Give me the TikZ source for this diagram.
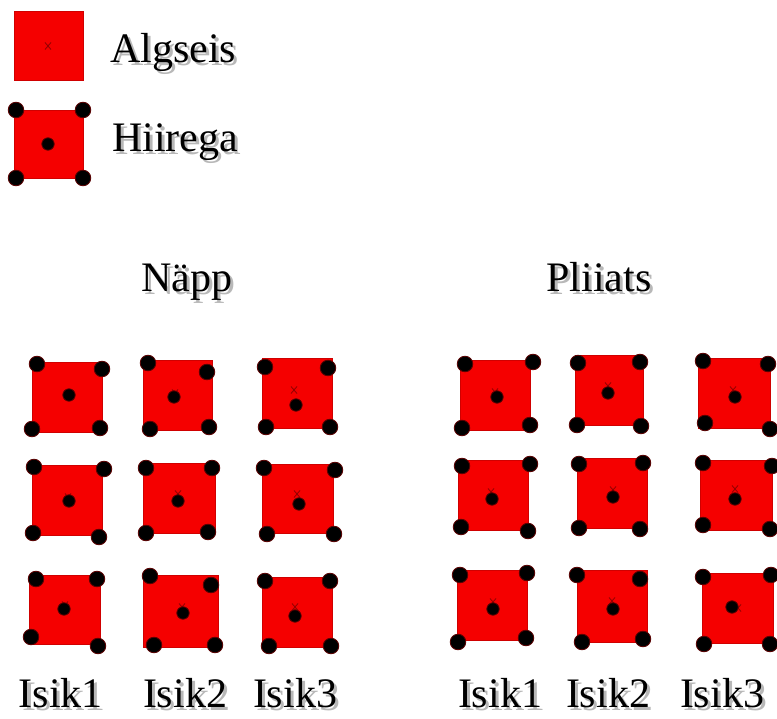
\documentclass[tikz,border=0pt]{standalone}
\usepackage{fontspec}
\setmainfont{Liberation Serif}
\definecolor{sqred}{RGB}{245,0,0}
\definecolor{xred}{RGB}{150,0,0}
\definecolor{halo}{RGB}{90,0,0}
\tikzset{
  sqfill/.style={fill=sqred, draw=sqred!85!black, line width=0.5pt},
  cdot/.style={fill=black, draw=halo, line width=0.8pt},
  xm/.style={draw=xred, line width=0.9pt},
  lbl/.style={font=\fontsize{42}{48}\selectfont, inner sep=0pt, text=black},
  shd/.style={font=\fontsize{42}{48}\selectfont, inner sep=0pt, text=black, opacity=0.28},
  flat/.style={text depth=0pt}
}
% #1,#2 rectangle corners; #3-#6 corner dots; #7 centre dot; #8 x mark; #9 name
\newcommand\cellsq[9]{%
  \fill[sqfill] (#1) rectangle (#2);
  \draw[xm] (#8) ++(-3,-3.5) -- ++(6,7) (#8) ++(3,-3.5) -- ++(-6,7);
  \foreach \p in {{#3},{#4},{#5},{#6}} \filldraw[cdot] (\p) circle[radius=7.8pt];
  \filldraw[cdot] (#7) circle[radius=6.2pt];
  \coordinate (#9) at (#7);
}
\newcommand\shtext[5][]{% [opts], name, anchor, position x,y, text
  \node[shd, anchor=#3, #1] at ([shift={(3,3)}]#4) {#5};
  \node[lbl, anchor=#3, #1] (#2) at (#4) {#5};
}
\begin{document}
\begin{tikzpicture}[x=1pt,y=-1pt]
\useasboundingbox (0,0) rectangle (777,719);
\fill[white] (0,0) rectangle (777,719);

% legend
\fill[sqfill] (14,11) rectangle (83,80);
\coordinate (lega) at (48,46);
\draw[xm] (lega) ++(-3,-3.5) -- ++(6,7) (lega) ++(3,-3.5) -- ++(-6,7);
\shtext{algseis}{base west}{110,63}{Algseis}
\cellsq{14,110}{83,178}{16,110}{83,110}{16,178}{83,178}{48,144}{48,144}{legb}
\shtext{hiirega}{base west}{112,152}{Hiirega}

% titles
\shtext{napp}{base}{187,292}{Näpp}
\shtext{pliiats}{base}{599,292}{Pliiats}

% Napp grid
\cellsq{32,362}{102,432}{37,364}{102,369}{32,429}{100,428}{69,395}{69,393}{n11}
\cellsq{143,360}{212,430}{148,363}{207,372}{150,429}{209,427}{174,397}{175,393}{n12}
\cellsq{262,358}{332,428}{265,367}{328,368}{266,427}{330,427}{296,405}{294,390}{n13}
\cellsq{32,465}{102,535}{34,467}{104,469}{33,533}{99,537}{69,501}{68,497}{n21}
\cellsq{143,463}{215,533}{146,468}{212,468}{146,533}{208,532}{178,501}{178,494}{n22}
\cellsq{262,464}{333,533}{264,468}{335,470}{267,534}{334,534}{299,504}{297,494}{n23}
\cellsq{29,575}{100,644}{36,579}{97,579}{31,637}{98,646}{64,609}{65,605}{n31}
\cellsq{143,575}{218,647}{150,576}{211,585}{154,645}{215,645}{183,613}{182,607}{n32}
\cellsq{262,577}{332,647}{265,581}{330,581}{269,646}{331,646}{295,616}{295,607}{n33}

% Pliiats grid
\cellsq{460,360}{530,430}{465,364}{533,362}{462,428}{530,425}{497,397}{495,392}{p11}
\cellsq{575,355}{643,425}{578,363}{640,362}{577,425}{641,426}{608,393}{608,386}{p12}
\cellsq{698,358}{770,428}{703,361}{768,364}{705,423}{770,429}{735,397}{733,390}{p13}
\cellsq{458,460}{528,530}{462,466}{530,464}{461,527}{528,531}{492,499}{491,492}{p21}
\cellsq{577,458}{647,528}{579,464}{643,463}{579,528}{640,529}{613,497}{613,490}{p22}
\cellsq{700,460}{772,530}{703,463}{772,466}{703,525}{770,529}{735,499}{735,489}{p23}
\cellsq{457,570}{527,640}{460,575}{527,573}{458,642}{526,638}{493,609}{493,602}{p31}
\cellsq{577,570}{647,642}{577,575}{640,579}{582,642}{643,639}{613,609}{612,601}{p32}
\cellsq{702,573}{773,643}{703,577}{771,575}{704,644}{770,644}{732,607}{738,608}{p33}

% column labels
\shtext[flat]{ni1}{base}{61,707}{Isik1}
\shtext[flat]{ni2}{base}{185,707}{Isik2}
\shtext[flat]{ni3}{base}{295,707}{Isik3}
\shtext[flat]{pi1}{base}{500,707}{Isik1}
\shtext[flat]{pi2}{base}{608,707}{Isik2}
\shtext[flat]{pi3}{base}{722,707}{Isik3}
\end{tikzpicture}
\end{document}
